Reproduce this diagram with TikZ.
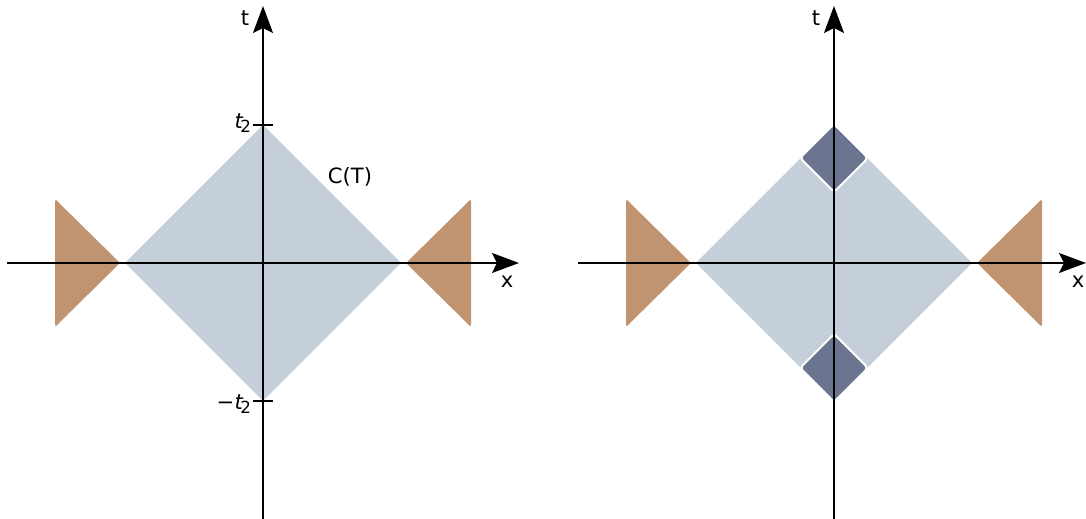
\documentclass[tikz,border=0pt]{standalone}
\usepackage{fontspec}
\setmainfont{DejaVu Sans}
\usetikzlibrary{arrows.meta,positioning}
\definecolor{lightcone}{HTML}{C5CFDA}
\definecolor{outside}{HTML}{C09470}
\definecolor{diamondblue}{HTML}{6B7590}

\begin{document}
\begin{tikzpicture}[
    x=0.02cm, y=-0.02cm,
    font=\fontsize{12}{14}\selectfont,
    axis/.style={-{Stealth[length=0.54cm, width=0.4cm, inset=0.1cm]}, line width=0.7pt, draw=black},
    tickmark/.style={line width=0.7pt, draw=black},
    cone/.style={fill=lightcone},
    outer/.style={fill=outside, rounded corners=1pt},
    smalldiamond/.style={fill=diamondblue, draw=white, line width=1.2pt, rounded corners=2pt},
    label/.style={inner sep=1pt}
  ]
    \useasboundingbox (0,0) rectangle (1086,519);

    % left panel
    \coordinate (oL) at (263,263);
    \coordinate (xLs) at (7,263);
    \coordinate (xLe) at (519,263);
    \coordinate (tLs) at (263,519);
    \coordinate (tLe) at (263,6);

    \fill[cone] (125,263) -- (263,125) -- (401,263) -- (263,401) -- cycle;
    \fill[outer] (55,199) -- (120,263) -- (55,327) -- cycle;
    \fill[outer] (406,263) -- (471,199) -- (471,327) -- cycle;

    \draw[tickmark] (253,125) -- (273,125);
    \draw[tickmark] (253,401) -- (273,401);
    \draw[axis] (xLs) -- (xLe);
    \draw[axis] (tLs) -- (tLe);

    \node[label] (tL) at (245,18) {t};
    \node[label] (xL) at (507,282) {x};
    \node[label, anchor=east] (tTwo) at (253,123) {{\itshape t}\kern-1.5pt\raisebox{-0.4ex}{\fontsize{9.5}{10}\selectfont 2}};
    \node[label, anchor=east] (tMinus) at (253,404) {\textminus\kern0.2pt{\itshape t}\kern-1.5pt\raisebox{-0.4ex}{\fontsize{9.5}{10}\selectfont 2}};
    \node[label] (cT) at (350,177) {C(T)};

    % right panel
    \coordinate (oR) at (834,263);
    \coordinate (xRs) at (578,263);
    \coordinate (xRe) at (1086,263);
    \coordinate (tRs) at (834,519);
    \coordinate (tRe) at (834,6);

    \fill[cone] (696,263) -- (834,125) -- (972,263) -- (834,401) -- cycle;
    \fill[outer] (626,199) -- (691,263) -- (626,327) -- cycle;
    \fill[outer] (977,263) -- (1042,199) -- (1042,327) -- cycle;
    \filldraw[smalldiamond] (834,124) -- (868,158) -- (834,192) -- (800,158) -- cycle;
    \filldraw[smalldiamond] (834,334) -- (868,368) -- (834,402) -- (800,368) -- cycle;

    \draw[axis] (xRs) -- (xRe);
    \draw[axis] (tRs) -- (tRe);

    \node[label] (tR) at (816,18) {t};
    \node[label] (xR) at (1078,282) {x};
  \end{tikzpicture}
\end{document}
